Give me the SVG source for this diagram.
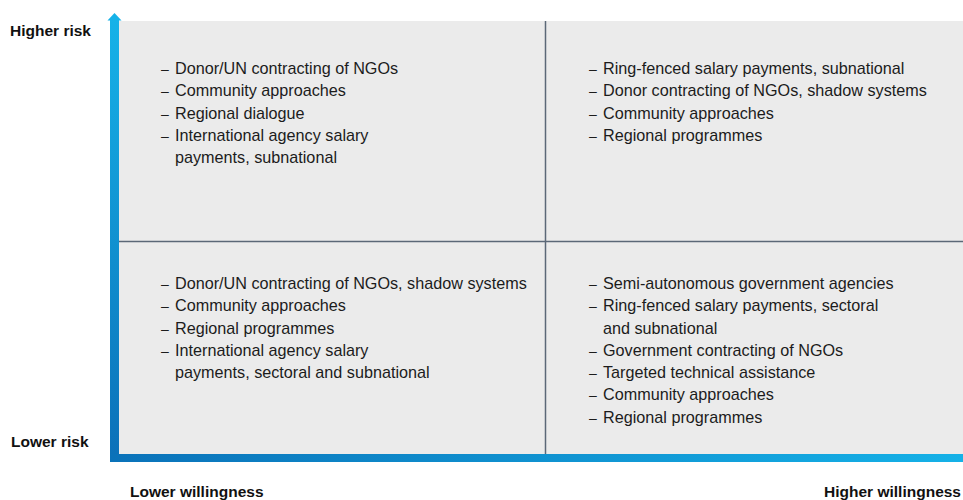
<svg xmlns="http://www.w3.org/2000/svg" width="963" height="500" viewBox="0 0 963 500">
  <defs>
    <linearGradient id="gV" x1="0" y1="0" x2="0" y2="1">
      <stop offset="0" stop-color="#16b2e8"/>
      <stop offset="1" stop-color="#0b70b8"/>
    </linearGradient>
    <linearGradient id="gH" x1="0" y1="0" x2="1" y2="0">
      <stop offset="0" stop-color="#0a72b9"/>
      <stop offset="1" stop-color="#15b1e7"/>
    </linearGradient>
  </defs>
  <style>
    .item { font-family: "Liberation Sans", Arial, sans-serif; font-size: 16.2px; fill: #1c1c1c; }
    .dash { font-family: "Liberation Sans", Arial, sans-serif; font-size: 14px; fill: #1c1c1c; }
    .axis { font-family: "Liberation Sans", Arial, sans-serif; font-size: 15.5px; font-weight: bold; fill: #111111; }
    .div { stroke: #5b6877; stroke-width: 1.5; }
  </style>
  <rect x="119" y="21" width="844" height="433" fill="#ebebeb"/>
  <g id="dividers">
    <line class="div" x1="545.5" y1="21" x2="545.5" y2="454"/>
    <line class="div" x1="119" y1="241.5" x2="963" y2="241.5"/>
  </g>
  <g id="axes">
    <rect x="110" y="20" width="9" height="442" fill="url(#gV)"/>
    <polygon points="114.5,13 121.5,20.5 107.5,20.5" fill="#16b2e8"/>
    <rect x="110" y="454" width="853" height="8" fill="url(#gH)"/>
  </g>
  <g id="labels">
    <text class="axis" x="10" y="36">Higher risk</text>
    <text class="axis" x="11" y="447">Lower risk</text>
    <text class="axis" x="130" y="497">Lower willingness</text>
    <text class="axis" x="961" y="497" text-anchor="end">Higher willingness</text>
  </g>
  <g id="q-top-left">
    <text class="dash" x="161" y="74">–</text><text class="item" x="175" y="74">Donor/UN contracting of NGOs</text>
    <text class="dash" x="161" y="96">–</text><text class="item" x="175" y="96">Community approaches</text>
    <text class="dash" x="161" y="119">–</text><text class="item" x="175" y="119">Regional dialogue</text>
    <text class="dash" x="161" y="141">–</text><text class="item" x="175" y="141">International agency salary</text>
    <text class="item" x="175" y="163">payments, subnational</text>
  </g>
  <g id="q-top-right">
    <text class="dash" x="589" y="74">–</text><text class="item" x="603" y="74">Ring-fenced salary payments, subnational</text>
    <text class="dash" x="589" y="96">–</text><text class="item" x="603" y="96">Donor contracting of NGOs, shadow systems</text>
    <text class="dash" x="589" y="119">–</text><text class="item" x="603" y="119">Community approaches</text>
    <text class="dash" x="589" y="141">–</text><text class="item" x="603" y="141">Regional programmes</text>
  </g>
  <g id="q-bottom-left">
    <text class="dash" x="161" y="289">–</text><text class="item" x="175" y="289">Donor/UN contracting of NGOs, shadow systems</text>
    <text class="dash" x="161" y="311">–</text><text class="item" x="175" y="311">Community approaches</text>
    <text class="dash" x="161" y="334">–</text><text class="item" x="175" y="334">Regional programmes</text>
    <text class="dash" x="161" y="356">–</text><text class="item" x="175" y="356">International agency salary</text>
    <text class="item" x="175" y="378">payments, sectoral and subnational</text>
  </g>
  <g id="q-bottom-right">
    <text class="dash" x="589" y="289">–</text><text class="item" x="603" y="289">Semi-autonomous government agencies</text>
    <text class="dash" x="589" y="311">–</text><text class="item" x="603" y="311">Ring-fenced salary payments, sectoral</text>
    <text class="item" x="603" y="334">and subnational</text>
    <text class="dash" x="589" y="356">–</text><text class="item" x="603" y="356">Government contracting of NGOs</text>
    <text class="dash" x="589" y="378">–</text><text class="item" x="603" y="378">Targeted technical assistance</text>
    <text class="dash" x="589" y="400">–</text><text class="item" x="603" y="400">Community approaches</text>
    <text class="dash" x="589" y="423">–</text><text class="item" x="603" y="423">Regional programmes</text>
  </g>
</svg>
